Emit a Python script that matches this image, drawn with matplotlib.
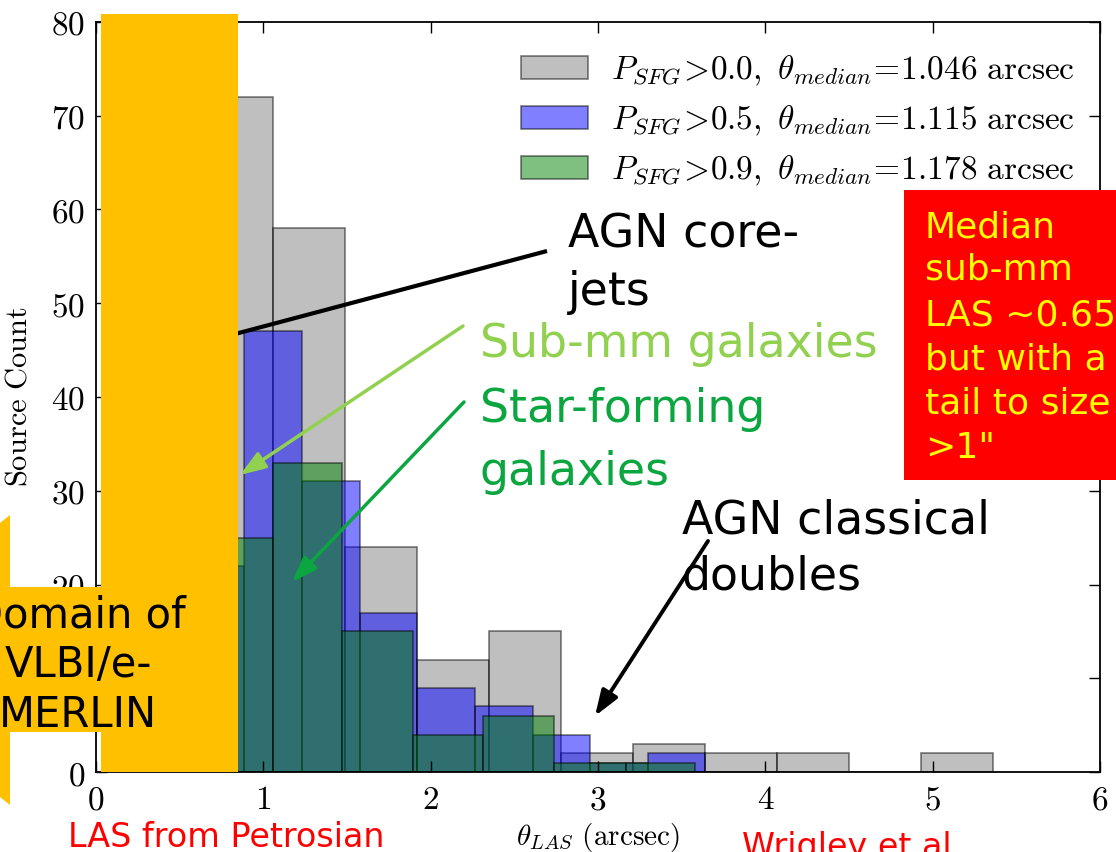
import matplotlib
matplotlib.use('Agg')
import matplotlib.pyplot as plt
import numpy as np
from matplotlib.patches import Rectangle, Polygon
from matplotlib.ticker import FuncFormatter

# bin edges (arcsec) and counts; first bins sit behind the orange box
gray_edges = [0.20, 0.63, 1.06, 1.49, 1.92, 2.35, 2.78, 3.21, 3.64, 4.07, 4.50, 4.93, 5.36]
gray_counts = [50, 72, 58, 24, 12, 15, 2, 3, 2, 2, 0, 2]

blue_edges = [0.19, 0.535, 0.885, 1.23, 1.575, 1.92, 2.265, 2.61, 2.955, 3.30, 3.64]
blue_counts = [32, 22, 47, 31, 17, 9, 7, 4, 1, 2]

green_edges = [0.22, 0.64, 1.055, 1.47, 1.895, 2.31, 2.74, 3.165, 3.58]
green_counts = [16, 25, 33, 15, 4, 6, 1, 1]

p_cuts = ['0.0', '0.5', '0.9']
medians = ['1.046', '1.115', '1.178']
colors = ['gray', 'b', 'g']

plt.rcParams.update({'mathtext.fontset': 'cm', 'font.family': 'DejaVu Sans'})

W, H = 1116, 852
fig = plt.figure(figsize=(W / 100, H / 100), dpi=100)
ax = fig.add_axes([96 / W, 80 / H, 1004 / W, 750 / H])

series = [(gray_edges, gray_counts), (blue_edges, blue_counts), (green_edges, green_counts)]
for (edges, counts), color, cut, med in zip(series, colors, p_cuts, medians):
  label = r'$P_{SFG}\!>\!%s,\ \theta_{median}\!=\!%s\ \mathrm{arcsec}$' % (cut, med)
  ax.hist(edges[:-1], bins=edges, weights=counts, color=color, alpha=0.5,
          edgecolor='black', linewidth=1.2, label=label)

ax.set_xlim(0, 6)
ax.set_ylim(0, 80)
ax.set_xticks(range(7))
ax.set_yticks(range(0, 81, 10))
fmt = FuncFormatter(lambda v, pos: r'$%d$' % v)
ax.xaxis.set_major_formatter(fmt)
ax.yaxis.set_major_formatter(fmt)
ax.tick_params(direction='in', length=8, width=1, top=True, right=True, labelsize=24, pad=8)
for sp in ax.spines.values():
  sp.set_linewidth(1.3)

ax.set_ylabel(r'$\mathrm{Source\ Count}$', fontsize=22)
ax.set_xlabel(r'$\theta_{LAS}\ \mathrm{(arcsec)}$', fontsize=21)
ax.yaxis.set_label_coords(-0.063, 0.5)
ax.xaxis.set_label_coords(0.5, -0.066)

ax.legend(loc='upper left', bbox_to_anchor=(521 / W, 1 - 53 / H), bbox_transform=fig.transFigure,
          frameon=False, fontsize=24, handlelength=2.0, handleheight=0.7,
          handletextpad=0.7, labelspacing=0.47, borderpad=0, borderaxespad=0)

# slide annotations, in pixel coordinates (y down)
ov = fig.add_axes([0, 0, 1, 1], zorder=5)
ov.set_xlim(0, W)
ov.set_ylim(H, 0)
ov.axis('off')

ov.plot([205, 547], [342, 251], color='black', lw=3, solid_capstyle='butt', zorder=1)

ov.add_patch(Rectangle((101, 14), 137, 758, color='#FFC000', lw=0, zorder=3))
ov.add_patch(Polygon([(-170, 660), (10, 515), (10, 587), (238, 587), (238, 732),
                      (10, 732), (10, 805)], closed=True, color='#FFC000', lw=0, zorder=3))
for txt, yb in zip(['Domain of', 'VLBI/e-', 'MERLIN'], [627, 677, 727]):
  ov.text(78, yb, txt, fontsize=30, color='black', ha='center', va='baseline', zorder=4)

arrow = '-|>,head_length=0.7,head_width=0.25'
ov.annotate('', xy=(240, 475), xytext=(463, 326), zorder=2,
            arrowprops=dict(arrowstyle=arrow, color='#92D050', lw=2.5, mutation_scale=22,
                            shrinkA=0, shrinkB=0))
ov.annotate('', xy=(292, 582), xytext=(464, 402), zorder=2,
            arrowprops=dict(arrowstyle=arrow, color='#0BA640', lw=2.5, mutation_scale=22,
                            shrinkA=0, shrinkB=0))
ov.annotate('', xy=(595, 716), xytext=(708, 541), zorder=2,
            arrowprops=dict(arrowstyle=arrow, color='black', lw=2.8, mutation_scale=22,
                            shrinkA=0, shrinkB=0))

ov.text(568, 247, 'AGN core-', fontsize=33, va='baseline', zorder=4)
ov.text(568, 305, 'jets', fontsize=33, va='baseline', zorder=4)
ov.text(480, 357, 'Sub-mm galaxies', fontsize=33, color='#92D050', va='baseline', zorder=4)
ov.text(480, 422, 'Star-forming', fontsize=33, color='#0BA640', va='baseline', zorder=4)
ov.text(480, 485, 'galaxies', fontsize=33, color='#0BA640', va='baseline', zorder=4)
ov.text(682, 533, 'AGN classical', fontsize=33, va='baseline', zorder=4)
ov.text(682, 590, 'doubles', fontsize=33, va='baseline', zorder=4)

ov.add_patch(Rectangle((904, 190), 230, 290, color='#FF0000', lw=0, zorder=3))
box_lines = ['Median', 'sub-mm', 'LAS ~0.65', 'but with a', 'tail to size', '>1"']
for txt, yb in zip(box_lines, [237, 280, 326, 370, 413, 458]):
  ov.text(925, yb, txt, fontsize=26, color='#FFFF00', va='baseline', zorder=4)

ov.text(68, 847, 'LAS from Petrosian', fontsize=24, color='#FF0000', va='baseline', zorder=4)
ov.text(742, 857, 'Wrigley et al.', fontsize=24, color='#FF0000', va='baseline', zorder=4)

fig.savefig('out.png', dpi=100)
